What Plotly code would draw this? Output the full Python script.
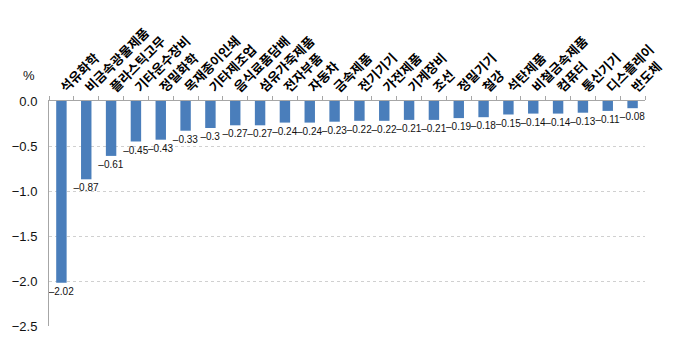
import plotly.graph_objects as go

# Manufacturing sectors and their change (%)
sectors = ["석유화학", "비금속광물제품", "플라스틱고무", "기타운수장비", "정밀화학",
           "목재종이인쇄", "기타제조업", "음식료품담배", "섬유가죽제품", "전자부품",
           "자동차", "금속제품", "전기기기", "가전제품", "기계장비", "조선",
           "정밀기기", "철강", "석탄제품", "비철금속제품", "컴퓨터", "통신기기",
           "디스플레이", "반도체"]
changes = [-2.02, -0.87, -0.61, -0.45, -0.43, -0.33, -0.3, -0.27, -0.27, -0.24,
           -0.24, -0.23, -0.22, -0.22, -0.21, -0.21, -0.19, -0.18, -0.15, -0.14,
           -0.14, -0.13, -0.11, -0.08]
y_ticks = [0.0, -0.5, -1.0, -1.5, -2.0, -2.5]

labels = [f"{v:g}".replace("-", "\u2013") for v in changes]

fig = go.Figure()
fig.add_trace(go.Bar(
    x=sectors, y=changes,
    marker=dict(color="#4A7EBB", line=dict(width=0)),
    text=labels, textposition="outside", cliponaxis=False, constraintext="none",
    textfont=dict(family="Liberation Sans", size=10, color="#111"),
    width=0.42,
))

fig.update_layout(
    width=700, height=346,
    margin=dict(l=49, r=55, t=101, b=14),
    plot_bgcolor="white", paper_bgcolor="white",
    showlegend=False,
    uniformtext=dict(mode=False),
    xaxis=dict(
        side="top", showline=True, linecolor="#A6A6A6", linewidth=1,
        ticks="outside", ticklen=4, tickcolor="#A6A6A6", tickson="boundaries",
        tickangle=-45, showgrid=False,
        tickfont=dict(family="Noto Sans CJK KR", size=13, color="#000", weight="bold"),
    ),
    yaxis=dict(
        range=[-2.5, 0], tickvals=y_ticks, tickformat=".1f",
        showline=True, linecolor="#A6A6A6", linewidth=1,
        showgrid=True, gridcolor="#D0D0D0", griddash="dot", gridwidth=1,
        zeroline=False, ticks="", ticklabelstandoff=8,
        tickfont=dict(family="Liberation Sans", size=13, color="#111"),
    ),
    annotations=[dict(
        text="%", xref="paper", yref="paper", x=-0.02, y=1.0, yshift=16,
        xanchor="right", yanchor="bottom", showarrow=False,
        font=dict(family="Liberation Sans", size=13, color="#111"),
    )],
)

fig.write_html("out.html")
